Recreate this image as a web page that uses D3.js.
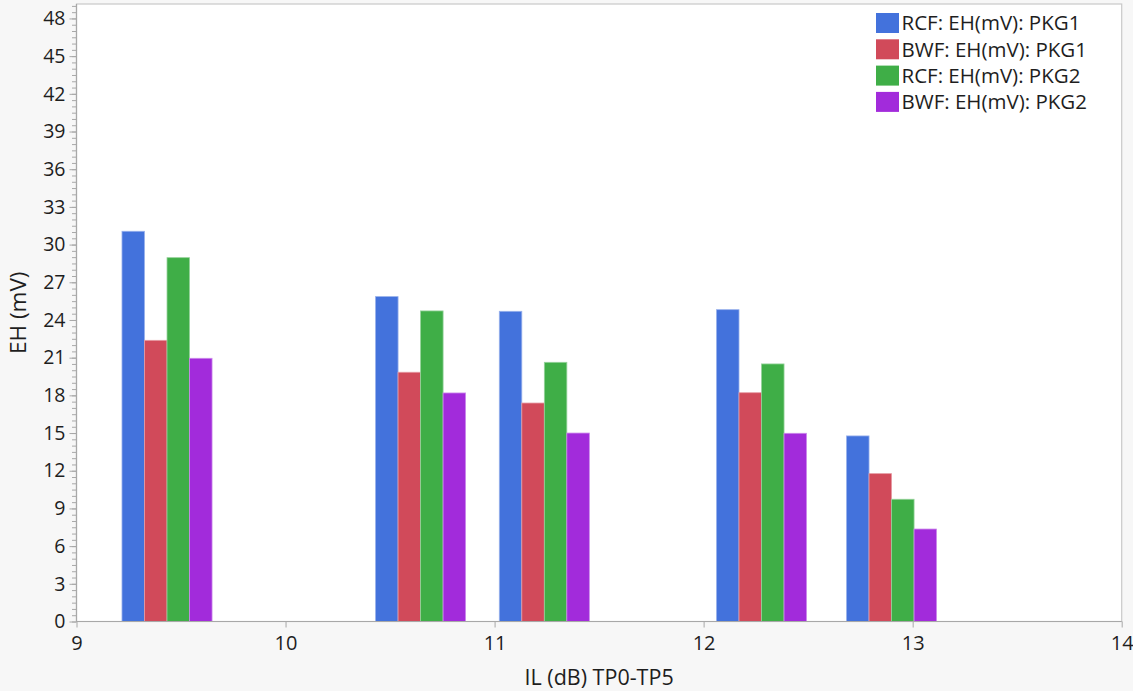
<!DOCTYPE html>
<html>
<head>
<meta charset="utf-8">
<script src="https://cdn.jsdelivr.net/npm/d3@7"></script>
<style>
  html, body { margin: 0; padding: 0; background: #f7f7f7; }
  svg { display: block; font-family: "Open Sans", "Noto Sans", sans-serif; }
</style>
</head>
<body>
<svg id="chart" width="1133" height="691"></svg>
<script>
// ---- data ----
const xPositions = [9.433, 10.646, 11.238, 12.277, 12.899];
const seriesNames = ["RCF: EH(mV): PKG1", "BWF: EH(mV): PKG1", "RCF: EH(mV): PKG2", "BWF: EH(mV): PKG2"];
const rcfPkg1 = [31.06, 25.86, 24.69, 24.82, 14.77];
const bwfPkg1 = [22.38, 19.84, 17.39, 18.21, 11.77];
const rcfPkg2 = [28.96, 24.72, 20.63, 20.50, 9.73];
const bwfPkg2 = [20.95, 18.19, 15.00, 14.98, 7.36];
const seriesColors = ["#4372dc", "#d14a5a", "#3fae47", "#a22bdb"];
const xTicks = [9, 10, 11, 12, 13, 14];
const yTicks = [0, 3, 6, 9, 12, 15, 18, 21, 24, 27, 30, 33, 36, 39, 42, 45, 48];
const xDomain = [9, 14];
const yDomain = [0, 49.15];
const barWidthUnits = 0.1077;
const xTitle = "IL (dB) TP0-TP5";
const yTitle = "EH (mV)";

const seriesValues = [rcfPkg1, bwfPkg1, rcfPkg2, bwfPkg2];

// ---- layout ----
const W = 1133, H = 691;
const margin = { left: 76.5, right: 11.3, top: 4, bottom: 69.5 };
const svg = d3.select("#chart");

const x = d3.scaleLinear().domain(xDomain).range([margin.left, W - margin.right]);
const y = d3.scaleLinear().domain(yDomain).range([H - margin.bottom, margin.top]);

// plot background
svg.append("rect")
  .attr("x", margin.left).attr("y", margin.top)
  .attr("width", W - margin.left - margin.right)
  .attr("height", H - margin.top - margin.bottom)
  .attr("fill", "#ffffff")
  .attr("stroke", "#c9c9c9").attr("stroke-width", 1.2);

// bars
const bars = [];
xPositions.forEach((xv, gi) => {
  seriesValues.forEach((vals, si) => {
    bars.push({ x0: xv + (si - 2) * barWidthUnits, x1: xv + (si - 1) * barWidthUnits, v: vals[gi], si });
  });
});
svg.append("g").selectAll("rect").data(bars).join("rect")
  .attr("x", d => x(d.x0))
  .attr("width", d => x(d.x1) - x(d.x0))
  .attr("y", d => y(d.v))
  .attr("height", d => y(0) - y(d.v))
  .attr("fill", d => seriesColors[d.si])
  .attr("stroke", d => d3.interpolateRgb(seriesColors[d.si], "#ffffff")(0.45))
  .attr("stroke-width", 0.8);

// y axis
const yMinor = d3.range(0, 49.01, 0.5);
const yAxisG = svg.append("g").attr("transform", `translate(${margin.left},0)`);
yAxisG.call(d3.axisLeft(y).tickValues(yMinor).tickSize(4.5).tickFormat(""))
  .call(g => g.select(".domain").remove())
  .call(g => g.selectAll("line").attr("stroke", "#a8a8a8"));
yAxisG.append("g")
  .call(d3.axisLeft(y).tickValues(yTicks).tickSize(7).tickPadding(4).tickFormat(d3.format("d")))
  .call(g => g.select(".domain").remove())
  .call(g => g.selectAll("line").attr("stroke", "#a8a8a8"))
  .call(g => g.selectAll("text").attr("font-size", 19.5).attr("fill", "#1e1e1e").attr("font-family", "Open Sans"));
yAxisG.append("line").attr("x1", 0).attr("x2", 0).attr("y1", margin.top).attr("y2", H - margin.bottom)
  .attr("stroke", "#a8a8a8").attr("stroke-width", 1.2);

// x axis
const xAxisG = svg.append("g").attr("transform", `translate(0,${H - margin.bottom})`);
xAxisG.call(d3.axisBottom(x).tickValues(xTicks).tickSize(6).tickPadding(8).tickFormat(d3.format("d")))
  .call(g => g.select(".domain").remove())
  .call(g => g.selectAll("line").attr("stroke", "#a8a8a8"))
  .call(g => g.selectAll("text").attr("font-size", 20).attr("fill", "#1e1e1e").attr("font-family", "Open Sans"));
xAxisG.append("line").attr("x1", margin.left).attr("x2", W - margin.right).attr("y1", 0).attr("y2", 0)
  .attr("stroke", "#a8a8a8").attr("stroke-width", 1.2);

// titles
svg.append("text")
  .attr("x", (margin.left + W - margin.right) / 2).attr("y", 685)
  .attr("text-anchor", "middle").attr("font-size", 21.5).attr("fill", "#1e1e1e")
  .text(xTitle);
svg.append("text")
  .attr("transform", `translate(26,${(margin.top + H - margin.bottom) / 2}) rotate(-90)`)
  .attr("text-anchor", "middle").attr("font-size", 22.5).attr("fill", "#1e1e1e")
  .text(yTitle);

// legend
const legend = svg.append("g").attr("transform", "translate(876,13)");
const rowH = 26.3;
seriesNames.forEach((name, i) => {
  const g = legend.append("g").attr("transform", `translate(0,${i * rowH})`);
  g.append("rect").attr("x", 0).attr("y", 0).attr("width", 23).attr("height", 20)
    .attr("fill", seriesColors[i]);
  g.append("text").attr("x", 25.5).attr("y", 10).attr("dy", "0.36em")
    .attr("font-size", 20.5).attr("fill", "#1e1e1e").text(name);
});
</script>
</body>
</html>
